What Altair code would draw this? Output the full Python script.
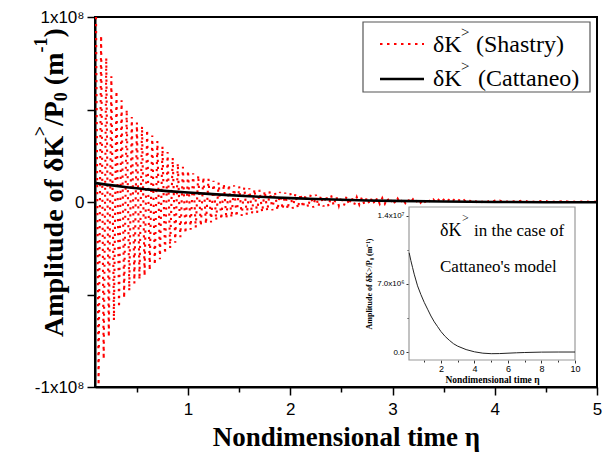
import altair as alt
import pandas as pd

# ---------------- data ----------------
# Shastry model: rapidly oscillating amplitude (successive extremes), units of 1e8 m^-1,
# sampled on a 0.025 grid of nondimensional time starting at 0.1
shastry_amp = [
    1.00, -0.99, 0.90, -0.85, 0.78, -0.73, 0.68, -0.64, 0.60, -0.57,
    0.55, -0.52, 0.50, -0.48, 0.46, -0.44, 0.43, -0.42, 0.41, -0.40,
    0.39, -0.37, 0.36, -0.34, 0.33, -0.31, 0.30, -0.28, 0.27, -0.25,
    0.24, -0.22, 0.21, -0.19, 0.19, -0.17, 0.17, -0.15, 0.155, -0.14,
    0.145, -0.13, 0.135, -0.12, 0.125, -0.11, 0.115, -0.10, 0.105, -0.095,
    0.10, -0.09, 0.095, -0.085, 0.09, -0.08, 0.085, -0.075, 0.08, -0.07,
    0.075, -0.065, 0.07, -0.06, 0.065, -0.055, 0.06, -0.05, 0.06, -0.045,
    0.055, -0.045, 0.055, -0.04, 0.05, -0.04, 0.05, -0.035, 0.045, -0.035,
    0.045, -0.03, 0.04, -0.03, 0.04, -0.03, 0.04, -0.025, 0.035, -0.025,
    0.035, -0.025, 0.035, -0.02, 0.03, -0.02, 0.03, -0.02, 0.03, -0.015,
    0.028, -0.015, 0.026, -0.014, 0.025, -0.013, 0.024, -0.012, 0.023, -0.011,
    0.022, -0.010, 0.021, -0.009, 0.020, -0.008, 0.019, -0.007, 0.018, -0.006,
    0.017, -0.006, 0.016, -0.005, 0.015, -0.005, 0.015, -0.004, 0.014, -0.004,
    0.013, -0.003, 0.013, -0.003, 0.012, -0.002, 0.012, -0.002, 0.011, -0.002,
    0.011, -0.001, 0.010, -0.001, 0.010, -0.001, 0.009, 0.000, 0.009, 0.000,
    0.008, 0.000, 0.008, 0.000, 0.008, 0.000, 0.007, 0.001, 0.007, 0.001,
    0.007, 0.001, 0.006, 0.001, 0.006, 0.001, 0.006, 0.001, 0.006, 0.001,
    0.005, 0.001, 0.005, 0.001, 0.005, 0.001, 0.005, 0.001, 0.005, 0.001,
    0.004, 0.001, 0.004, 0.001, 0.004, 0.001, 0.004, 0.001, 0.004, 0.001,
    0.003, 0.001, 0.003, 0.001, 0.003, 0.001, 0.003,
]
shastry_eta = [round(0.1 + 0.025 * i, 3) for i in range(len(shastry_amp))]

# Cattaneo model: smooth decay, units of 1e6 m^-1
cattaneo_eta = [0.1, 0.2, 0.3, 0.4, 0.5, 0.6, 0.8, 1.0, 1.2, 1.4, 1.6, 1.8,
                2.0, 2.25, 2.5, 2.75, 3.0, 3.5, 4.0, 4.5, 5.0, 5.5, 6.0,
                6.5, 7.0, 8.0, 9.0, 10.0]
cattaneo_amp = [10.2, 9.4, 8.7, 8.0, 7.4, 6.8, 5.9, 5.1, 4.4, 3.7, 3.1, 2.6,
                2.1, 1.6, 1.2, 0.85, 0.6, 0.25, 0.02, -0.12, -0.17, -0.16, -0.12,
                -0.08, -0.05, -0.01, 0.0, 0.0]

main_x_ticks = [0.5, 1, 1.5, 2, 2.5, 3, 3.5, 4, 4.5, 5]
main_y_ticks = [-1, -0.5, 0, 0.5, 1]
inset_x_ticks = [1, 2, 3, 4, 5, 6, 7, 8, 9, 10]
inset_y_ticks = [0, 3.5, 7, 10.5, 14]

red_df = pd.DataFrame({"eta": shastry_eta, "amp": shastry_amp})
cat_df = pd.DataFrame({"eta": cattaneo_eta, "amp6": cattaneo_amp})
cat_main = cat_df[cat_df["eta"] <= 5].copy()
cat_main["amp"] = cat_main["amp6"] / 100.0  # 1e6 -> 1e8 units

# ---------------- layout ----------------
W, H = 502, 370
X0, Y0 = 95, 17
SERIF = "Liberation Serif"
SANS = "Liberation Sans"


def px(x):
    return x - X0


def py(y):
    return y - Y0


one = alt.Data(values=[{"k": 0}])


def label(txt, x, y, size, weight="normal", angle=0, font=SERIF, color="black", align="left"):
    kw = dict(align=align, baseline="alphabetic", font=font, fontSize=size,
              fontWeight=weight, color=color)
    if angle:
        kw["angle"] = angle
    return alt.Chart(one).mark_text(**kw).encode(
        x=alt.value(px(x)), y=alt.value(py(y)), text=alt.value(txt))


def box(x1, y1, x2, y2, stroke, width=1.0):
    return alt.Chart(one).mark_rect(fill="white", stroke=stroke, strokeWidth=width).encode(
        x=alt.value(px(x1)), x2=alt.value(px(x2)), y=alt.value(py(y1)), y2=alt.value(py(y2)))


def sample(x1, x2, y, color, width, dash=None):
    kw = dict(color=color, strokeWidth=width)
    if dash:
        kw["strokeDash"] = dash
    return alt.Chart(one).mark_rule(**kw).encode(
        x=alt.value(px(x1)), x2=alt.value(px(x2)), y=alt.value(py(y)))


major_test = "abs(datum.value - round(datum.value)) < 0.001"

x_main = alt.X(
    "eta:Q",
    scale=alt.Scale(domain=[0.09, 5], nice=False, zero=False),
    axis=alt.Axis(
        values=main_x_ticks,
        labelExpr=f"{major_test} ? format(datum.value, 'd') : ''",
        tickSize={"condition": {"test": major_test, "value": 8}, "value": 5},
        tickColor="black", tickWidth=1.5,
        domainColor="black", domainWidth=2,
        labelFont=SANS, labelFontSize=17, labelColor="black", labelPadding=6,
        labelFlush=False, labelOverlap=False, grid=False,
        title="Nondimensional time η", titleFont=SERIF, titleFontSize=27,
        titleFontWeight="bold", titleColor="black", titlePadding=7,
    ),
)
y_main = alt.Y(
    "amp:Q",
    scale=alt.Scale(domain=[-1, 1], nice=False, zero=False),
    axis=alt.Axis(
        values=main_y_ticks,
        labelExpr="datum.value == 1 ? '1x10⁸' : datum.value == -1 ? '-1x10⁸' : datum.value == 0 ? '0' : ''",
        tickSize=8, tickColor="black", tickWidth=1.5,
        domainColor="black", domainWidth=2,
        labelFont=SANS, labelFontSize=17, labelColor="black", labelPadding=3,
        labelFlush=False, labelOverlap=False, grid=False, title=None,
    ),
)

red = alt.Chart(red_df).mark_line(
    color="#ff0000", strokeWidth=2.1, strokeDash=[2.2, 4.8], clip=True
).encode(x=x_main, y=y_main, order="eta:Q")

black = alt.Chart(cat_main).mark_line(color="black", strokeWidth=2.6, clip=True).encode(
    x=x_main, y=y_main)

legend_parts = [
    box(363, 22, 590, 92, "#555555", 1.2),
    sample(380, 424, 44, "#ff0000", 2.2, [2.5, 4.5]),
    sample(380, 424, 79, "black", 2.6),
    label("δK", 433, 52, 24),
    label(">", 461, 37, 15),
    label("(Shastry)", 476, 52, 24),
    label("δK", 433, 86, 24),
    label(">", 461, 71, 15),
    label("(Cattaneo)", 478, 86, 24),
]

# rotated y title assembled from pieces (Times-Bold advance widths, em)
EM = {"A": .722, "m": .833, "p": .556, "l": .278, "i": .278, "t": .333, "u": .556,
      "d": .556, "e": .444, " ": .25, "o": .5, "f": .333, "δ": .5, "K": .778,
      ">": .57, "/": .278, "P": .611, "0": .5, "(": .333, "-": .333, "1": .5, ")": .333}
BASE, SMALL = 28, 18
BASELINE_X = 63
title_pieces = [  # (text, size, baseline shift in px toward the left, trailing gap in em of BASE)
    ("Amplitude of", BASE, 0, 0.25),
    ("δK", BASE, 0, 0),
    (">", SMALL, 17, 0),
    ("/P", BASE, 0, 0),
    ("0", SMALL, -4, 0.25),
    ("(m", BASE, 0, 0),
    ("-1", SMALL, 16, 0),
    (")", BASE, 0, 0),
]
ytitle_parts = []
ypos = 337.0
for txt, size, shift, gap in title_pieces:
    ytitle_parts.append(label(txt, BASELINE_X - shift, ypos, size, "bold", 270))
    ypos -= sum(EM.get(c, 0.5) for c in txt) * size + gap * BASE

main_layer = alt.layer(red, black, *legend_parts, *ytitle_parts)

# ---------------- inset ----------------
x_in = alt.X(
    "eta:Q",
    scale=alt.Scale(domain=[0.09, 10], range=[px(409), px(575)], nice=False, zero=False),
    axis=alt.Axis(
        orient="bottom", offset=py(360) - H,
        values=inset_x_ticks,
        labelExpr="datum.value % 2 == 0 ? format(datum.value, 'd') : ''",
        tickSize={"condition": {"test": "datum.value % 2 == 0", "value": 3}, "value": 2},
        tickColor="#333333", domain=False, grid=False,
        labelFont=SANS, labelFontSize=9, labelColor="black", labelPadding=1,
        labelFlush=False, labelOverlap=False,
        title="Nondimensional time η", titleFont=SERIF, titleFontSize=9.5,
        titleFontWeight="bold", titleColor="black", titlePadding=1,
    ),
)
y_in = alt.Y(
    "amp6:Q",
    scale=alt.Scale(domain=[-0.82, 14.9], range=[py(360), py(207)], nice=False, zero=False),
    axis=alt.Axis(
        orient="left", offset=-px(409),
        values=inset_y_ticks,
        labelExpr="datum.value == 14 ? '1.4x10⁷' : datum.value == 7 ? '7.0x10⁶' : datum.value == 0 ? '0.0' : ''",
        tickSize={"condition": {"test": "datum.value % 7 == 0", "value": 3}, "value": 2},
        tickColor="#333333", domain=False, grid=False,
        labelFont=SANS, labelFontSize=8, labelColor="black", labelPadding=2,
        labelFlush=False, labelOverlap=False,
        title="Amplitude of δK˃/P₀ (m⁻¹)", titleFont=SERIF, titleFontSize=8,
        titleFontWeight="bold", titleColor="black", titlePadding=3,
    ),
)

inset_box = box(409, 207, 575, 360, "#9a9a9a", 1.2)
inset_line = alt.Chart(cat_df).mark_line(color="#222222", strokeWidth=1).encode(x=x_in, y=y_in)
inset_text = [
    label("δK", 440, 236, 18),
    label(">", 462, 222, 12),
    label("in the case of", 474, 236, 17),
    label("Cattaneo's model", 440, 272, 17),
]

inset_layer = alt.layer(inset_box, inset_line, *inset_text)

chart = alt.layer(main_layer, inset_layer).resolve_scale(
    x="independent", y="independent"
).properties(
    width=W, height=H,
    autosize=alt.AutoSizeParams(type="none"),
    padding={"left": X0, "top": Y0, "right": 611 - X0 - W, "bottom": 456 - Y0 - H},
    background="white",
).configure_view(stroke="black", strokeWidth=2)

chart.save("out.html", embed_options={"renderer": "svg", "actions": False})
